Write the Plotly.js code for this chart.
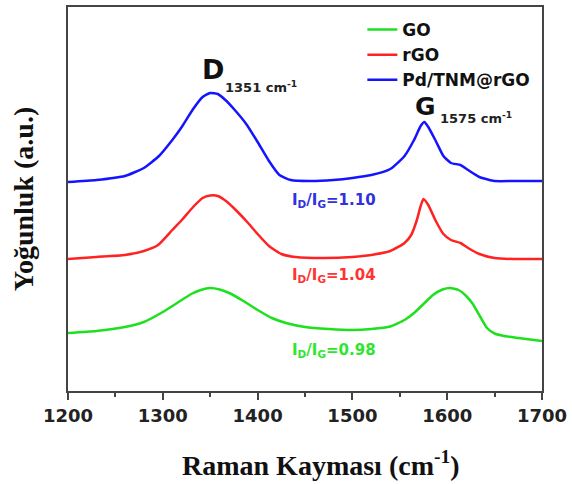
<!DOCTYPE html>
<html><head><meta charset="utf-8">
<script src="https://cdn.plot.ly/plotly-3.0.1.min.js"></script>
<style>html,body{margin:0;padding:0;background:#fff}#chart{width:572px;height:484px}</style>
</head><body><div id="chart"></div>
<script>
// Raman shift (cm-1) and intensity (a.u.)
const goX = [1200,1230,1260,1280,1300,1315,1330,1340,1350,1360,1370,1385,1400,1415,1430,1450,1475,1500,1520,1540,1555,1565,1575,1585,1595,1603,1612,1620,1627,1635,1642,1650,1660,1675,1700];
const goY = [59,61,65,70,80,89,98,102,104,102.5,99,91,82,74,69,65,63,62,63,65.5,72,79,88,97,102.5,104,102,96,88,75,64,58.5,56,54,51];

const rgoX = [1200,1230,1260,1280,1295,1310,1320,1332,1342,1350,1358,1368,1378,1390,1400,1412,1425,1440,1470,1500,1520,1540,1555,1562,1568,1572,1575,1580,1588,1596,1604,1614,1622,1634,1650,1670,1700];
const rgoY = [133,135,137,141,147,162,172,185,194,196.5,196,190,181,169,158,146,138,135,134,135,137,141,149,157,172,186,193,187,171,158,152,149,144,138,134,133,133];

const pdX = [1200,1230,1260,1280,1296,1310,1320,1332,1342,1350,1358,1366,1375,1388,1400,1412,1423,1435,1455,1480,1500,1520,1540,1555,1565,1572,1576,1580,1588,1596,1604,1614,1622,1634,1650,1670,1700];
const pdY = [210,212,216,224,236,252,265,283,295,299,298,292,283,268,250,231,217,212,211,212,214,217,223,236,252,266,270,265,251,236,229,227,222,215,211,211,211];

const seriesNames = ['GO','rGO','Pd/TNM@rGO'];
const seriesColors = ['#1ee01e','#ff2222','#1414ff'];
const ratioLabels = ['I<sub>D</sub>/I<sub>G</sub>=0.98','I<sub>D</sub>/I<sub>G</sub>=1.04','I<sub>D</sub>/I<sub>G</sub>=1.10'];
const ratioColors = ['#2ee62e','#ff3333','#3030e0'];
const xTickVals = [1200,1300,1400,1500,1600,1700];

const sans = 'DejaVu Sans, Arial, sans-serif';
const serif = 'Liberation Serif, Times New Roman, serif';

const xs = [goX, rgoX, pdX], ys = [goY, rgoY, pdY];
const traces = xs.map((x,i)=>({
  x: x, y: ys[i], name: seriesNames[i], type:'scatter', mode:'lines',
  line:{color: seriesColors[i], width:2.5, shape:'spline', smoothing:0.5}
}));

const annotations = [
  {x:1352.5, y:323, xref:'x', yref:'y', text:'D', showarrow:false, font:{family:sans, size:27, weight:'bold', color:'#111'}, xanchor:'center', yanchor:'middle'},
  {x:1364, y:305, xref:'x', yref:'y', text:'1351 cm<sup>-1</sup>', showarrow:false, font:{family:sans, size:13, weight:'bold', color:'#222'}, xanchor:'left', yanchor:'middle'},
  {x:1577, y:286, xref:'x', yref:'y', text:'G', showarrow:false, font:{family:sans, size:25, weight:'bold', color:'#111'}, xanchor:'center', yanchor:'middle'},
  {x:1590.5, y:274, xref:'x', yref:'y', text:'1575 cm<sup>-1</sup>', showarrow:false, font:{family:sans, size:13, weight:'bold', color:'#222'}, xanchor:'left', yanchor:'middle'},
  {x:0.533, y:-0.188, xref:'paper', yref:'paper', text:'Raman Kayması (cm<sup>-1</sup>)', showarrow:false,
   font:{family:serif, size:28, weight:'bold', color:'#111'}, xanchor:'center', yanchor:'middle'}
];
const ratioY = [42, 117, 192];
ratioLabels.forEach((t,i)=>annotations.push({
  x:1481, y:ratioY[i], xref:'x', yref:'y', text:t, showarrow:false,
  font:{family:sans, size:15, weight:'bold', color:ratioColors[i]}, xanchor:'center', yanchor:'middle'
}));

const layout = {
  width:572, height:484,
  margin:{l:68, r:30, t:7, b:93},
  paper_bgcolor:'#fff', plot_bgcolor:'#fff',
  showlegend:true,
  legend:{x:0.621, y:0.987, xanchor:'left', yanchor:'top', bgcolor:'rgba(0,0,0,0)',
          font:{family:sans, size:17, weight:'bold', color:'#111'}, tracegroupgap:0},
  xaxis:{range:[1200,1700], tickvals:xTickVals, ticktext:xTickVals.map(String),
         ticks:'outside', ticklen:7, tickwidth:2, tickcolor:'#444',
         minor:{dtick:50, tick0:1200, ticks:'outside', ticklen:4, tickwidth:2, tickcolor:'#444', showgrid:false},
         showline:true, linecolor:'#444', linewidth:2, mirror:true,
         showgrid:false, zeroline:false,
         tickfont:{family:sans, size:18, weight:'bold', color:'#222'}},
  yaxis:{range:[1,385], showticklabels:false, ticks:'',
         showline:true, linecolor:'#444', linewidth:2, mirror:true,
         showgrid:false, zeroline:false,
         title:{text:'Yoğunluk (a.u.)', font:{family:serif, size:28, weight:'bold', color:'#111'}, standoff:24}},
  annotations: annotations
};
Plotly.newPlot('chart', traces, layout, {displayModeBar:false, staticPlot:true});
</script></body></html>
